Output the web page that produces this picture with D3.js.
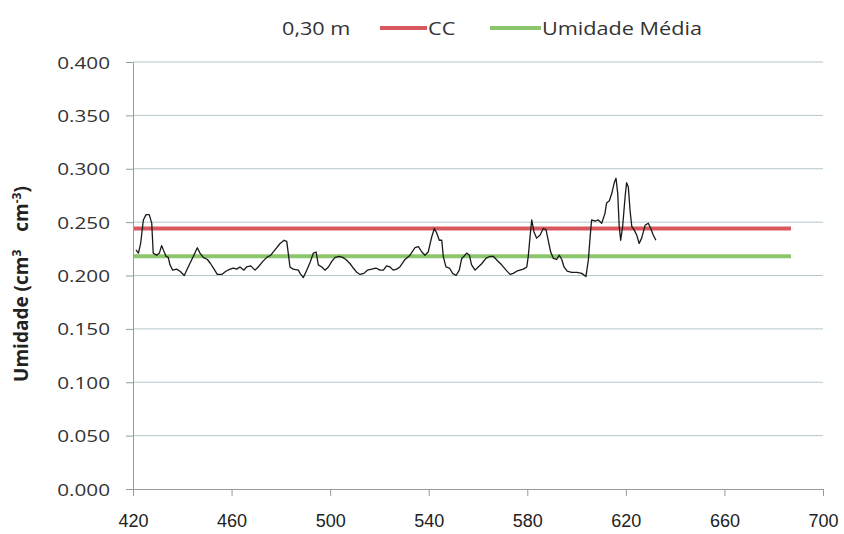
<!DOCTYPE html>
<html>
<head>
<meta charset="utf-8">
<script src="https://cdn.jsdelivr.net/npm/d3@7"></script>
<style>
  body { margin: 0; background: #fff; }
  svg { display: block; }
</style>
</head>
<body>
<svg id="chart" width="844" height="534"></svg>
<script>
// Dias e umidade do solo a 0,30 m
const dias = [421.2, 422.2, 423.1, 424.2, 425.3, 426.6, 427.6, 428.2, 429.6, 430.7,
  431.6, 432.3, 433.4, 434.3, 435.0, 436.1, 437.7, 439.1, 440.8, 442.4,
  444.5, 446.1, 447.2, 448.5, 450.2, 451.5, 452.9, 454.2, 456.0, 457.7,
  459.4, 460.7, 462.1, 463.4, 465.0, 466.1, 467.8, 469.5, 470.8, 472.6,
  474.3, 475.9, 477.6, 479.7, 481.3, 482.4, 483.0, 483.7, 485.0, 487.1,
  487.8, 489.1, 490.5, 491.8, 493.2, 494.3, 495.2, 496.6, 497.9, 499.3,
  500.6, 502.0, 503.7, 505.1, 506.4, 508.1, 509.4, 510.8, 512.1, 513.7,
  515.1, 516.9, 518.6, 520.2, 521.6, 522.9, 524.3, 525.6, 527.0, 528.3,
  530.4, 532.4, 534.4, 535.8, 537.2, 538.5, 539.8, 541.2, 542.3, 543.2,
  544.3, 545.3, 545.9, 547.0, 548.4, 549.7, 551.1, 552.4, 553.4, 554.3,
  555.4, 556.5, 557.4, 558.8, 560.1, 561.5, 563.2, 564.9, 566.2, 567.8,
  569.6, 571.4, 573.0, 574.3, 575.7, 577.0, 578.4, 579.8, 580.4, 581.1,
  581.8, 582.7, 583.8, 585.2, 586.5, 587.6, 588.5, 589.5, 590.6, 591.9,
  593.0, 594.0, 594.9, 596.2, 598.0, 600.1, 602.1, 603.8, 604.8, 605.5,
  606.1, 607.5, 608.8, 610.2, 611.5, 612.2, 613.3, 614.3, 615.3, 616.0,
  616.7, 617.3, 617.9, 618.7, 619.7, 620.3, 621.0, 621.7, 622.4, 623.3,
  624.4, 625.4, 626.4, 627.8, 629.1, 630.1, 631.1, 632.2];
const umidade = [0.224, 0.221, 0.230, 0.252, 0.257, 0.257, 0.249, 0.221, 0.219, 0.221,
  0.228, 0.224, 0.218, 0.217, 0.210, 0.205, 0.206, 0.204, 0.200, 0.208,
  0.218, 0.226, 0.221, 0.217, 0.215, 0.211, 0.206, 0.201, 0.201, 0.204,
  0.206, 0.207, 0.206, 0.208, 0.205, 0.208, 0.209, 0.205, 0.208, 0.213,
  0.217, 0.219, 0.224, 0.230, 0.233, 0.232, 0.221, 0.208, 0.206, 0.205,
  0.202, 0.198, 0.205, 0.212, 0.221, 0.222, 0.210, 0.208, 0.205, 0.208,
  0.213, 0.217, 0.218, 0.217, 0.215, 0.211, 0.207, 0.203, 0.201, 0.202,
  0.205, 0.206, 0.207, 0.205, 0.205, 0.209, 0.208, 0.205, 0.206, 0.208,
  0.215, 0.219, 0.226, 0.227, 0.222, 0.219, 0.222, 0.236, 0.244, 0.240,
  0.233, 0.233, 0.218, 0.208, 0.207, 0.202, 0.200, 0.205, 0.216, 0.218,
  0.221, 0.219, 0.210, 0.205, 0.208, 0.211, 0.216, 0.218, 0.218, 0.214,
  0.210, 0.205, 0.201, 0.202, 0.204, 0.205, 0.206, 0.208, 0.218, 0.236,
  0.252, 0.241, 0.235, 0.238, 0.244, 0.243, 0.233, 0.222, 0.216, 0.215,
  0.219, 0.215, 0.208, 0.204, 0.203, 0.203, 0.202, 0.199, 0.215, 0.236,
  0.252, 0.251, 0.252, 0.249, 0.258, 0.268, 0.270, 0.277, 0.287, 0.291,
  0.277, 0.246, 0.233, 0.246, 0.274, 0.287, 0.283, 0.261, 0.246, 0.243,
  0.238, 0.230, 0.235, 0.247, 0.249, 0.244, 0.238, 0.233];

// Capacidade de campo e umidade média
const ccValor = 0.244;
const mediaValor = 0.218;
const referenciaDias = [420, 687];

const xTicks = [420, 460, 500, 540, 580, 620, 660, 700];
const yTicks = [0, 0.05, 0.10, 0.15, 0.20, 0.25, 0.30, 0.35, 0.40];
const legendaTextos = ["0,30 m", "CC", "Umidade Média"];

const fonte = "'Open Sans', 'DejaVu Sans', sans-serif";
const margem = { left: 133, right: 823, top: 62, bottom: 489 };

const svg = d3.select("#chart");

const x = d3.scaleLinear().domain([420, 700]).range([margem.left, margem.right]);
const y = d3.scaleLinear().domain([0, 0.4]).range([margem.bottom, margem.top]);

// Linhas de grade horizontais
svg.append("g")
  .selectAll("line")
  .data(yTicks.filter(d => d > 0))
  .join("line")
  .attr("x1", margem.left)
  .attr("x2", margem.right)
  .attr("y1", d => y(d))
  .attr("y2", d => y(d))
  .attr("stroke", "#b3c7cc")
  .attr("stroke-width", 1);

// Linhas de referência (CC e média)
const refs = [
  { valor: ccValor, cor: "#d9585e" },
  { valor: mediaValor, cor: "#8cc66c" }
];
svg.append("g")
  .selectAll("line")
  .data(refs)
  .join("line")
  .attr("x1", x(referenciaDias[0]))
  .attr("x2", x(referenciaDias[1]))
  .attr("y1", d => y(d.valor))
  .attr("y2", d => y(d.valor))
  .attr("stroke", d => d.cor)
  .attr("stroke-width", 4);

// Série de umidade
const serie = dias.map((d, i) => [d, umidade[i]]);
svg.append("path")
  .datum(serie)
  .attr("fill", "none")
  .attr("stroke", "#1a1a1a")
  .attr("stroke-width", 1.3)
  .attr("stroke-linejoin", "round")
  .attr("d", d3.line().x(d => x(d[0])).y(d => y(d[1])));

// Eixo Y
const gy = svg.append("g")
  .attr("transform", `translate(${margem.left},0)`)
  .call(d3.axisLeft(y).tickValues(yTicks).tickSize(7).tickSizeOuter(0)
    .tickFormat(d3.format(".3f")));
gy.select(".domain").attr("stroke", "#9a9a9a");
gy.selectAll(".tick line").attr("stroke", "#9a9a9a");
gy.selectAll(".tick text")
  .attr("x", null)
  .attr("dy", "0.36em")
  .attr("transform", "translate(-23,0) scale(1.22,1)")
  .attr("text-anchor", "end")
  .attr("fill", "#333")
  .style("font-family", fonte)
  .style("font-size", "17px");

// Eixo X
const gx = svg.append("g")
  .attr("transform", `translate(0,${margem.bottom})`)
  .call(d3.axisBottom(x).tickValues(xTicks).tickSize(7).tickSizeOuter(0));
gx.select(".domain").attr("stroke", "#9a9a9a");
gx.selectAll(".tick line").attr("stroke", "#9a9a9a");
gx.selectAll(".tick text")
  .attr("y", 38)
  .attr("dy", null)
  .attr("fill", "#222")
  .style("font-family", "'Liberation Sans', sans-serif")
  .style("font-size", "18px");

// Título do eixo Y, com expoentes
const titulo = svg.append("text")
  .attr("transform", "translate(28,284) rotate(-90)")
  .attr("text-anchor", "middle")
  .attr("fill", "#222")
  .style("font-family", fonte)
  .style("font-size", "19px")
  .style("font-weight", "bold");
titulo.append("tspan").text("Umidade (cm");
titulo.append("tspan").attr("dy", -7).style("font-size", "12px").text("3");
titulo.append("tspan").attr("dy", 7).attr("dx", 18).text("cm");
titulo.append("tspan").attr("dy", -7).style("font-size", "12px").text("-3");
titulo.append("tspan").attr("dy", 7).text(")");

// Legenda
const legenda = svg.append("g").style("font-family", fonte).style("font-size", "19px");
const itens = [
  { texto: legendaTextos[0], x: 282, cor: null },
  { texto: legendaTextos[1], x: 428, cor: "#d9585e", x0: 380 },
  { texto: legendaTextos[2], x: 542, cor: "#8cc66c", x0: 490 }
];
itens.forEach(it => {
  if (it.cor) {
    legenda.append("line")
      .attr("x1", it.x0).attr("x2", it.x - 1)
      .attr("y1", 28).attr("y2", 28)
      .attr("stroke", it.cor).attr("stroke-width", 4);
  }
  legenda.append("text")
    .attr("transform", `translate(${it.x},35) scale(1.14,1)`)
    .attr("fill", "#333")
    .text(it.texto);
});
</script>
</body>
</html>
